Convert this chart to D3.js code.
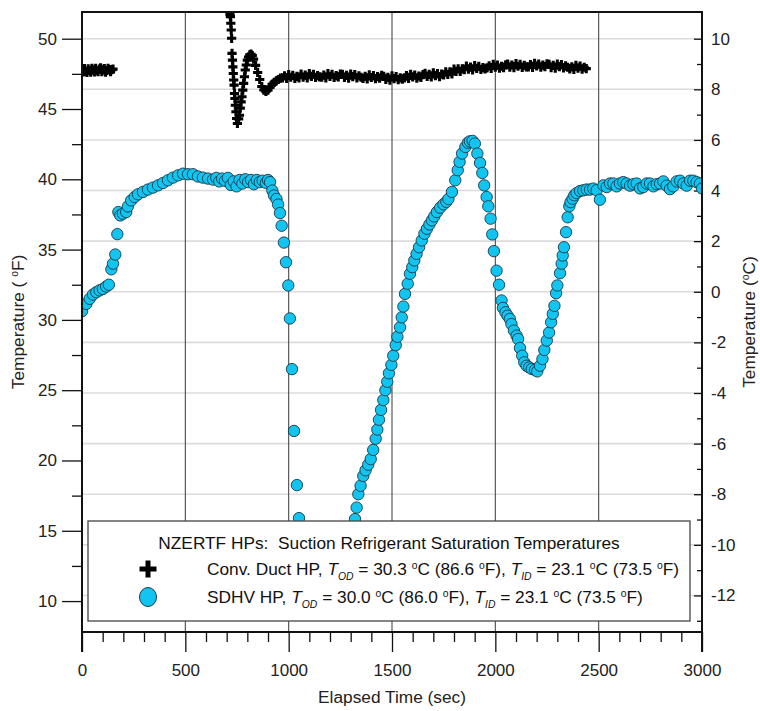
<!DOCTYPE html>
<html>
<head>
<meta charset="utf-8">
<script src="https://cdn.jsdelivr.net/npm/d3@7"></script>
<style>
  body { margin: 0; background: #fff; }
  svg { font-family: "Liberation Sans", Arial, sans-serif; }
</style>
</head>
<body>
<div id="container"></div>
<script>
/* CONSTANTS AND GLOBALS */
const width = 760,
  height = 711,
  margin = { top: 12, bottom: 79, left: 82, right: 58 },
  fontSize = 17.3;

/* DATA */
// SDHV HP, suction saturation temperature (deg F) vs elapsed time (s)
const sdhvTime = [
  0, 21, 37, 53, 69, 85, 101, 117, 130, 142, 150, 161, 171, 176, 185, 198, 214, 222, 238, 255,
  271, 295, 319, 343, 368, 392, 416, 440, 465, 489, 513, 537, 561, 585, 610, 634,
  650, 664, 678, 692, 706, 720, 734, 748, 762, 776, 790, 804, 818, 832, 846, 860, 874, 890, 900,
  910, 921, 929, 941, 949, 958, 966, 977, 987, 998, 1006, 1016, 1026, 1040, 1050,
  1065, 1085, 1105, 1125, 1145, 1165, 1185, 1205, 1225, 1245, 1265, 1285, 1300, 1312,
  1321, 1329, 1337, 1348, 1361, 1372, 1385, 1397, 1409, 1421, 1429, 1437, 1447, 1458, 1468,
  1477, 1485, 1497, 1506, 1518, 1526, 1539, 1547, 1555, 1563, 1576, 1587, 1598, 1608, 1619,
  1631, 1644, 1657, 1669, 1681, 1693, 1704, 1717, 1733, 1749, 1763, 1773, 1790, 1806, 1818,
  1827, 1839, 1855, 1867, 1877, 1890, 1901, 1913, 1926, 1937, 1946, 1958, 1966, 1977, 1985,
  1993, 2006, 2018, 2030, 2037, 2049, 2059, 2070, 2078, 2090, 2103, 2110, 2119, 2130, 2140,
  2151, 2164, 2176, 2192, 2203, 2216, 2228, 2237, 2249, 2260, 2270, 2278, 2286, 2294, 2300,
  2313, 2321, 2326, 2332, 2342, 2350, 2358, 2364, 2374, 2382, 2393, 2410, 2426, 2442, 2458,
  2474, 2490, 2506, 2523, 2539, 2555, 2571, 2587, 2603, 2619, 2635, 2652, 2668, 2684, 2700,
  2716, 2732, 2748, 2765, 2781, 2797, 2813, 2829, 2845, 2861, 2877, 2894, 2910, 2926, 2942,
  2958, 2974, 2990, 3000
];
const sdhvTemp = [
  30.62, 31.14, 31.5, 31.8, 31.97, 32.1, 32.2, 32.37, 32.5, 33.6, 34.0, 34.65, 36.1, 37.67, 37.43, 37.55, 37.67, 38.07, 38.5, 38.74,
  38.93, 39.1, 39.27, 39.41, 39.57, 39.74, 39.93, 40.12, 40.28, 40.4, 40.36, 40.36, 40.2, 40.12, 40.05, 39.98,
  40.1, 39.85, 40.05, 39.9, 40.1, 39.6, 39.85, 39.5, 39.95, 39.7, 40.0, 39.8, 39.95, 39.65, 39.95, 39.8, 39.9, 39.75, 39.95,
  39.8, 39.2, 38.85, 38.6, 38.2, 37.6, 36.7, 35.5, 34.1, 32.45, 30.1, 26.5, 22.1, 18.25, 15.9,
  14.2, 12.6, 11.5, 10.8, 10.4, 10.2, 10.2, 10.4, 10.8, 11.4, 12.3, 13.4, 14.2, 14.8,
  15.83, 16.65, 17.6, 18.2, 18.9, 19.3, 19.7, 20.1, 20.75, 21.55, 22.2, 22.9, 23.6, 24.3, 25.0,
  25.6, 26.2, 26.8, 27.45, 28.2, 28.8, 29.47, 30.18, 30.95, 31.85, 32.57, 33.28, 33.75, 34.23, 34.7,
  35.17, 35.65, 36.13, 36.48, 36.79, 37.08, 37.36, 37.67, 37.98, 38.22, 38.4, 38.6, 39.1, 39.93, 40.65,
  41.24, 41.83, 42.3, 42.6, 42.7, 42.73, 42.54, 41.83, 41.16, 40.45, 39.57, 38.74, 38.08, 37.2, 36.08,
  34.89, 33.5, 32.5, 31.38, 30.85, 30.54, 30.3, 30.07, 29.7, 29.24, 28.88, 28.64, 28.0, 27.45, 26.98,
  26.74, 26.62, 26.51, 26.44, 26.34, 26.74, 27.22, 27.86, 28.53, 29.1, 29.83, 30.43, 31.0, 31.9, 32.45,
  33.32, 34.0, 34.58, 35.17, 36.24, 37.3, 38.08, 38.38, 38.62, 38.86, 39.02, 39.17, 39.22, 39.27, 39.27,
  39.34, 39.22, 38.55, 39.57, 39.45, 39.7, 39.7, 39.5, 39.7, 39.8, 39.7, 39.55, 39.65, 39.7, 39.35,
  39.45, 39.7, 39.7, 39.5, 39.65, 39.7, 39.85, 39.55, 39.3, 39.5, 39.85, 39.9, 39.7, 39.55, 39.9,
  39.9, 39.8, 39.7, 39.35
];

// Conv. Duct HP: first run, sampled every 6 s from 0 s
const ductStartStep = 6;
const ductStartTemps = [
  47.78, 47.64, 47.88, 47.7, 47.6, 47.86, 47.74, 47.62, 47.9, 47.76, 47.64, 47.9, 47.72,
  47.66, 47.84, 47.92, 47.66, 47.78, 47.88, 47.62, 47.74, 47.9, 47.8, 47.66, 47.8, 47.84
];
// Conv. Duct HP: restart transient
const ductSpikeTime = [
  716, 718, 720, 722, 724, 726, 728, 730, 732, 734, 736, 738, 740, 742, 745, 748, 752,
  758, 762, 766, 770, 774, 778, 782, 786, 790, 795, 800, 806, 812, 818, 824,
  830, 840, 850, 860, 870, 880, 890, 900, 910, 920, 930, 940, 950
];
const ductSpikeTemp = [
  51.75, 51.57, 51.1, 50.62, 50.03, 48.96, 48.48, 48.0, 47.53, 47.06, 46.7, 46.1, 45.75, 45.27, 44.8, 44.33, 43.97,
  44.3, 44.56, 45.06, 45.51, 45.87, 46.34, 46.82, 47.29, 47.77, 48.13, 48.48, 48.7, 48.85, 48.9, 48.8,
  48.55, 48.1, 47.6, 47.1, 46.6, 46.35, 46.25, 46.35, 46.55, 46.75, 46.9, 47.0, 47.1
];
// Conv. Duct HP: steady band, sampled every 10 s from 960 s
const ductBandStart = 960, ductBandStep = 10;
const ductBandTemps = [
  47.2, 47.22, 47.35, 47.18, 47.45, 47.26, 47.4, 47.18, 47.32, 47.22,
  47.48, 47.26, 47.41, 47.22, 47.51, 47.32, 47.46, 47.24, 47.38, 47.28,
  47.26, 47.41, 47.22, 47.51, 47.32, 47.46, 47.24, 47.38, 47.28, 47.48,
  47.46, 47.24, 47.39, 47.2, 47.49, 47.3, 47.44, 47.22, 47.36, 47.26,
  47.18, 47.33, 47.14, 47.43, 47.24, 47.38, 47.16, 47.3, 47.2, 47.4,
  47.32, 47.1, 47.25, 47.06, 47.35, 47.16, 47.3, 47.08, 47.22, 47.12,
  47.22, 47.37, 47.18, 47.47, 47.28, 47.42, 47.2, 47.34, 47.24, 47.44,
  47.54, 47.32, 47.47, 47.28, 47.57, 47.38, 47.52, 47.3, 47.48, 47.42,
  47.64, 47.46, 47.65, 47.5, 47.83, 47.68, 47.86, 47.68, 47.86, 47.8,
  48.05, 47.83, 47.98, 47.79, 48.08, 47.89, 48.03, 47.81, 47.95, 47.85,
  47.92, 48.07, 47.88, 48.17, 47.98, 48.12, 47.9, 48.04, 47.94, 48.14,
  48.2, 47.98, 48.13, 47.94, 48.23, 48.04, 48.18, 47.96, 48.1, 48.0,
  48.0, 48.15, 47.96, 48.25, 48.06, 48.2, 47.98, 48.12, 48.02, 48.22,
  48.17, 47.95, 48.1, 47.91, 48.2, 48.01, 48.15, 47.93, 48.07, 47.97,
  47.85, 48.0, 47.81, 48.1, 47.91, 48.05, 47.83, 47.97, 47.87
];

// ticks
const xMajorTicks = [0, 500, 1000, 1500, 2000, 2500, 3000];
const xMinorTicks = d3.range(0, 3001, 100).filter(d => d % 500 !== 0);
const yMajorTicksF = [10, 15, 20, 25, 30, 35, 40, 45, 50];
const yMinorTicksF = [12.5, 17.5, 22.5, 27.5, 32.5, 37.5, 42.5, 47.5];
const yMajorTicksC = [-12, -10, -8, -6, -4, -2, 0, 2, 4, 6, 8, 10];
const yMinorTicksC = [-13, -11, -9, -7, -5, -3, -1, 1, 3, 5, 7, 9];
const fDomain = [7.8, 51.9];

/* SCALES */
const xScale = d3.scaleLinear()
  .domain([0, 3000])
  .range([margin.left, width - margin.right]);

const yScale = d3.scaleLinear()
  .domain(fDomain)
  .range([height - margin.bottom, margin.top]);

const yScaleC = d3.scaleLinear()
  .domain(fDomain.map(f => (f - 32) / 1.8))
  .range([height - margin.bottom, margin.top]);

const plotL = margin.left, plotR = width - margin.right,
  plotT = margin.top, plotB = height - margin.bottom;

/* HTML ELEMENTS */
const svg = d3.select("#container")
  .append("svg")
  .attr("width", width)
  .attr("height", height);

svg.append("defs").append("clipPath").attr("id", "plot")
  .append("rect")
  .attr("x", plotL).attr("y", plotT)
  .attr("width", plotR - plotL).attr("height", plotB - plotT);

// horizontal grid at the Celsius major ticks
svg.append("g")
  .selectAll("line")
  .data(yMajorTicksC)
  .join("line")
  .attr("x1", plotL).attr("x2", plotR)
  .attr("y1", d => yScaleC(d)).attr("y2", d => yScaleC(d))
  .attr("stroke", "#dcdcdc")
  .attr("stroke-width", 1.6);

// vertical grid
svg.append("g")
  .selectAll("line")
  .data(xMajorTicks.slice(1, -1))
  .join("line")
  .attr("x1", d => xScale(d)).attr("x2", d => xScale(d))
  .attr("y1", plotT).attr("y2", plotB)
  .attr("stroke", "#4a4a4a")
  .attr("stroke-width", 1.1);

// axes
function styleAxis(g) {
  g.select(".domain").remove();
  g.selectAll(".tick line").attr("stroke", "#111").attr("stroke-width", 1.3);
  g.selectAll(".tick text").attr("fill", "#222").style("font-size", "17px");
}

svg.append("g")
  .attr("transform", `translate(0,${plotB})`)
  .call(d3.axisBottom(xScale).tickValues(xMajorTicks).tickSize(20).tickPadding(12).tickFormat(d3.format("d")))
  .call(styleAxis);
svg.append("g")
  .attr("transform", `translate(0,${plotB})`)
  .call(d3.axisBottom(xScale).tickValues(xMinorTicks).tickSize(10).tickFormat(""))
  .call(styleAxis);

svg.append("g")
  .attr("transform", `translate(${plotL},0)`)
  .call(d3.axisLeft(yScale).tickValues(yMajorTicksF).tickSize(20).tickPadding(5))
  .call(styleAxis);
svg.append("g")
  .attr("transform", `translate(${plotL},0)`)
  .call(d3.axisLeft(yScale).tickValues(yMinorTicksF).tickSize(10).tickFormat(""))
  .call(styleAxis);

svg.append("g")
  .attr("transform", `translate(${plotR},0)`)
  .call(d3.axisRight(yScaleC).tickValues(yMajorTicksC).tickSize(-8).tickPadding(9).tickFormat(d => String(d)))
  .call(styleAxis);
svg.append("g")
  .attr("transform", `translate(${plotR},0)`)
  .call(d3.axisRight(yScaleC).tickValues(yMinorTicksC).tickSize(-5).tickFormat(""))
  .call(styleAxis);

// blue circles
const sdhv = sdhvTime.map((t, i) => ({ t, v: sdhvTemp[i] }));
svg.append("g")
  .attr("clip-path", "url(#plot)")
  .selectAll("circle")
  .data(sdhv)
  .join("circle")
  .attr("cx", d => xScale(d.t))
  .attr("cy", d => yScale(d.v))
  .attr("r", 5.7)
  .attr("fill", "#12c5f0")
  .attr("stroke", "#17394a")
  .attr("stroke-width", 0.9);

// black pluses
const duct = [
  ...ductStartTemps.map((v, i) => ({ t: i * ductStartStep, v })),
  ...ductSpikeTime.map((t, i) => ({ t, v: ductSpikeTemp[i] })),
  ...ductBandTemps.map((v, i) => ({ t: ductBandStart + i * ductBandStep, v }))
];
const plus = s => `M${-s},0H${s}M0,${-s}V${s}`;
svg.append("g")
  .attr("clip-path", "url(#plot)")
  .selectAll("path")
  .data(duct)
  .join("path")
  .attr("transform", d => `translate(${xScale(d.t)},${yScale(d.v)})`)
  .attr("d", plus(4.6))
  .attr("stroke", "#000")
  .attr("stroke-width", 3.1)
  .attr("fill", "none");

// frame
svg.append("path")
  .attr("d", `M${plotL},${plotB + 20}V${plotT}H${plotR}V${plotB + 20}M${plotL},${plotB}H${plotR}`)
  .attr("fill", "none")
  .attr("stroke", "#111")
  .attr("stroke-width", 2);

// rich text helper: segments {t, i (italic), sup, sub}
function richText(sel, segs, size) {
  let shift = 0;
  segs.forEach(s => {
    const target = s.sup ? -6 : s.sub ? 4.5 : 0;
    const ts = sel.append("tspan")
      .attr("dy", target - shift)
      .style("font-size", (s.sup || s.sub) ? (size * 0.6) + "px" : size + "px")
      .text(s.t);
    if (s.i) ts.style("font-style", "italic");
    shift = target;
  });
}

// axis titles
svg.append("text")
  .attr("x", (plotL + plotR) / 2)
  .attr("y", 703)
  .attr("text-anchor", "middle")
  .attr("fill", "#222")
  .style("font-size", fontSize + "px")
  .text("Elapsed Time (sec)");

svg.append("text")
  .attr("transform", `translate(24,${(plotT + plotB) / 2}) rotate(-90)`)
  .attr("text-anchor", "middle")
  .attr("fill", "#222")
  .call(richText, [{ t: "Temperature ( " }, { t: "o", sup: true }, { t: "F)" }], fontSize);

svg.append("text")
  .attr("transform", `translate(755,${(plotT + plotB) / 2}) rotate(-90)`)
  .attr("text-anchor", "middle")
  .attr("fill", "#222")
  .call(richText, [{ t: "Temperature (" }, { t: "o", sup: true }, { t: "C)" }], fontSize);

// legend
const legend = svg.append("g");
legend.append("rect")
  .attr("x", 88).attr("y", 521)
  .attr("width", 602).attr("height", 100)
  .attr("fill", "#fff")
  .attr("stroke", "#444")
  .attr("stroke-width", 1.3);

legend.append("text")
  .attr("x", 389).attr("y", 549)
  .attr("text-anchor", "middle")
  .attr("fill", "#111")
  .style("font-size", fontSize + "px")
  .style("white-space", "pre")
  .text("NZERTF HPs:  Suction Refrigerant Saturation Temperatures");

const deg = { t: "o", sup: true };
const rowDuct = [
  { t: "Conv. Duct HP, " }, { t: "T", i: true }, { t: "OD", i: true, sub: true },
  { t: " = 30.3 " }, deg, { t: "C (86.6 " }, deg, { t: "F), " },
  { t: "T", i: true }, { t: "ID", i: true, sub: true },
  { t: " = 23.1 " }, deg, { t: "C (73.5 " }, deg, { t: "F)" }
];
const rowSdhv = [
  { t: "SDHV HP, " }, { t: "T", i: true }, { t: "OD", i: true, sub: true },
  { t: " = 30.0 " }, deg, { t: "C (86.0 " }, deg, { t: "F), " },
  { t: "T", i: true }, { t: "ID", i: true, sub: true },
  { t: " = 23.1 " }, deg, { t: "C (73.5 " }, deg, { t: "F)" }
];

legend.append("path")
  .attr("transform", "translate(148,569)")
  .attr("d", plus(8.5))
  .attr("stroke", "#000")
  .attr("stroke-width", 5)
  .attr("fill", "none");
legend.append("text")
  .attr("x", 207).attr("y", 575)
  .attr("fill", "#111")
  .call(richText, rowDuct, fontSize);

legend.append("ellipse")
  .attr("cx", 148).attr("cy", 597)
  .attr("rx", 8.5).attr("ry", 9.5)
  .attr("fill", "#12c5f0")
  .attr("stroke", "#17394a")
  .attr("stroke-width", 1);
legend.append("text")
  .attr("x", 207).attr("y", 603)
  .attr("fill", "#111")
  .call(richText, rowSdhv, fontSize);
</script>
</body>
</html>
